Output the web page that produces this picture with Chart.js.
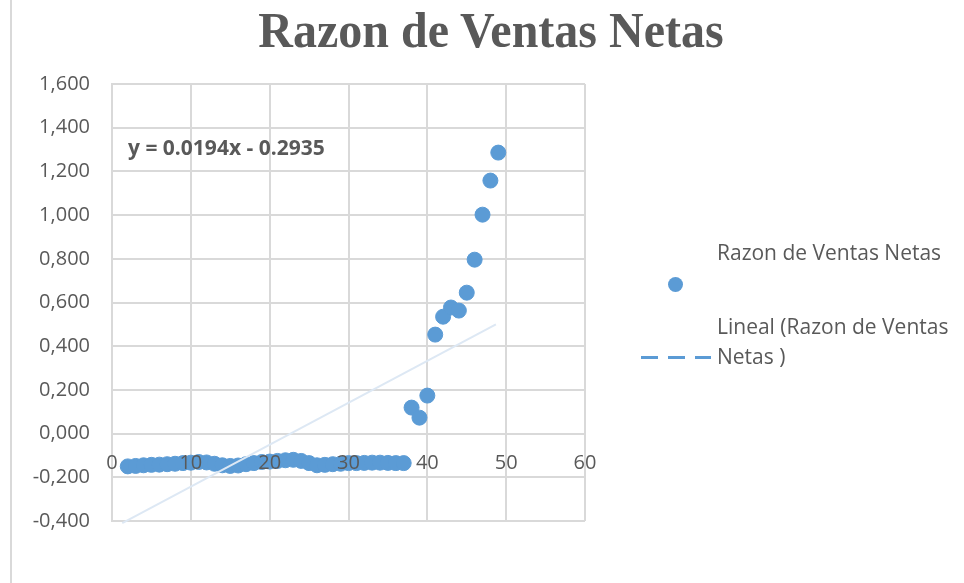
<!DOCTYPE html>
<html>
<head>
<meta charset="utf-8">
<script src="https://cdn.jsdelivr.net/npm/chart.js@4"></script>
<style>
  body { margin: 0; background: #fff; }
  #wrap { position: relative; width: 964px; height: 583px; overflow: hidden; }
  #marco { position: absolute; left: 10px; top: 0; width: 0; height: 583px; border-left: 2px solid #d9d9d9; }
  #titulo { position: absolute; left: 0; width: 964px; top: 0px; text-align: center; padding-left: 18px; box-sizing: border-box;
    font: bold 48px "Liberation Serif", serif; color: #595959; transform: scaleY(1.06); transform-origin: top; }
  .leyenda { position: absolute; font: 21px "Open Sans", sans-serif; color: #595959; }
  #ecuacion { position: absolute; left: 128px; top: 133px; font: bold 21px "Open Sans", sans-serif; color: #595959; }
  #guion { position: absolute; left: 641px; top: 356px; width: 70px; height: 3px;
    background: repeating-linear-gradient(to right, #5b9bd5 0 17px, transparent 17px 27px); }
  canvas { position: absolute; left: 0; top: 0; }
</style>
</head>
<body>
<div id="wrap">
  <canvas id="grafica" width="964" height="583"></canvas>
  <div id="marco"></div>
  <div id="titulo">Razon de Ventas Netas</div>
  <div id="ecuacion">y = 0.0194x - 0.2935</div>
  <div class="leyenda" style="left:717px; top:238px;">Razon de Ventas Netas</div>
  <div style="position:absolute; left:668px; top:277px; width:15px; height:15px; border-radius:50%; background:#5b9bd5;"></div>
  <div class="leyenda" style="left:717px; top:312px;">Lineal (Razon de Ventas</div>
  <div class="leyenda" style="left:717px; top:342px;">Netas )</div>
  <div id="guion"></div>
</div>
<script>
// periodos (x) y razon de ventas netas (y)
const periodos = [2,3,4,5,6,7,8,9,10,11,12,13,14,15,16,17,18,19,20,21,22,23,24,25,26,27,28,29,30,31,32,33,34,35,36,37,
                  38,39,40,41,42,43,44,45,46,47,48,49]
const razones = [-0.150,-0.148,-0.145,-0.143,-0.142,-0.140,-0.138,-0.135,-0.133,-0.130,-0.132,-0.138,-0.145,-0.148,-0.146,-0.140,
                 -0.135,-0.130,-0.128,-0.125,-0.122,-0.120,-0.125,-0.135,-0.145,-0.143,-0.140,-0.138,-0.135,-0.135,-0.134,-0.133,
                 -0.133,-0.134,-0.135,-0.135,
                 0.119,0.073,0.174,0.453,0.535,0.577,0.563,0.645,0.796,1.002,1.158,1.286]
// extremos de la linea de tendencia tal como aparece
const tendenciaX = [1.3, 48.7]
const tendenciaY = [-0.41, 0.50]

const puntos = periodos.map((x, i) => ({ x: x, y: razones[i] }))
const tendencia = tendenciaX.map((x, i) => ({ x: x, y: tendenciaY[i] }))

const fuente = { family: 'Open Sans', size: 20 }

new Chart(document.getElementById('grafica'), {
    type: 'scatter',
    data: {
        datasets: [
            {
                label: 'Lineal (Razon de Ventas Netas )',
                type: 'line',
                data: tendencia,
                borderColor: '#dde8f4',
                borderWidth: 2,
                pointRadius: 0,
                clip: false
            },
            {
                label: 'Razon de Ventas Netas',
                data: puntos,
                backgroundColor: '#5b9bd5',
                borderColor: '#5b9bd5',
                pointRadius: 7.5
            }
        ]
    },
    options: {
        responsive: false,
        animation: false,
        layout: { padding: { left: 0, right: 379, top: 84, bottom: 62 } },
        plugins: { legend: { display: false }, tooltip: { enabled: false } },
        scales: {
            x: {
                type: 'linear',
                position: { y: 0 },
                min: 0, max: 60,
                // etiquetas encima de los puntos, como en el original
                ticks: { stepSize: 10, color: '#595959', font: fuente, padding: 18, z: 1 },
                grid: { color: '#d9d9d9', lineWidth: 2, drawTicks: false },
                border: { color: '#d9d9d9', width: 2 }
            },
            y: {
                min: -0.4, max: 1.6,
                afterFit: s => { s.width = 112 },
                ticks: {
                    stepSize: 0.2, color: '#595959', font: fuente, padding: 22,
                    callback: v => v.toFixed(3).replace('.', ',')
                },
                grid: { color: '#d9d9d9', lineWidth: 2, drawTicks: false },
                border: { color: '#d9d9d9', width: 2 }
            }
        }
    }
})
</script>
</body>
</html>
